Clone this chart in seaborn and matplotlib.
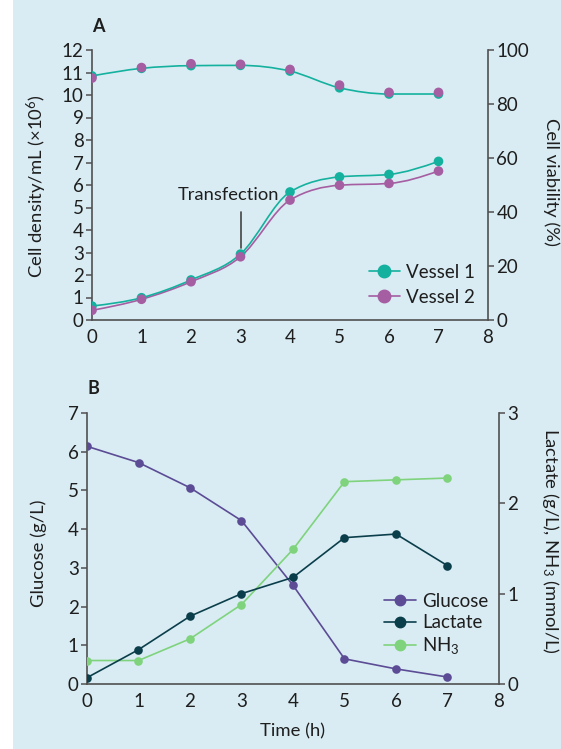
import numpy as np
import matplotlib
matplotlib.use("Agg")
import matplotlib.pyplot as plt
from matplotlib.path import Path
from matplotlib.patches import PathPatch, Rectangle
from matplotlib.lines import Line2D
import seaborn as sns
import pandas as pd

# ---------------- data ----------------
time_days = [0, 1, 2, 3, 4, 5, 6, 7]
v1_density = [0.62, 0.99, 1.78, 2.93, 5.69, 6.36, 6.47, 7.05]
v2_density = [0.43, 0.92, 1.70, 2.81, 5.33, 5.99, 6.07, 6.62]
v1_viability = [90.4, 93.2, 94.2, 94.3, 92.2, 86.0, 83.7, 83.7]
v2_viability = [89.6, 93.5, 94.9, 94.7, 92.8, 87.0, 84.3, 84.3]

glucose = [6.14, 5.72, 5.07, 4.22, 2.55, 0.65, 0.39, 0.18]
lactate = [0.07, 0.38, 0.75, 1.00, 1.18, 1.62, 1.66, 1.31]
nh3 = [0.26, 0.26, 0.50, 0.88, 1.49, 2.24, 2.26, 2.28]

vessel_labels = ["Vessel 1", "Vessel 2"]
metab_labels = ["Glucose", "Lactate", "NH$_3$"]
x_ticks = [0, 1, 2, 3, 4, 5, 6, 7, 8]
yA_left_ticks = list(range(0, 13))
yA_right_ticks = [0, 20, 40, 60, 80, 100]
yB_left_ticks = list(range(0, 8))
yB_right_ticks = [0, 1, 2, 3]

# ---------------- style ----------------
BG = "#d9ecf3"
TEAL = "#14b19e"
MAGENTA = "#a55ea2"
GLU = "#5b4c95"
LAC = "#0b3e4b"
NH3C = "#7fd37d"
SPINE = "#505050"
TXT = "#1e1e1e"

sns.set_theme(style="white")
plt.rcParams["font.family"] = ["Lato", "DejaVu Sans"]
plt.rcParams["mathtext.fontset"] = "custom"
plt.rcParams["mathtext.rm"] = "Lato"
plt.rcParams["mathtext.it"] = "Lato"
plt.rcParams["text.color"] = TXT
plt.rcParams["axes.labelcolor"] = TXT
plt.rcParams["xtick.color"] = SPINE
plt.rcParams["ytick.color"] = SPINE
plt.rcParams["xtick.labelcolor"] = TXT
plt.rcParams["ytick.labelcolor"] = TXT

FS = 13.5
LFS = 13.3

fig = plt.figure(figsize=(5.61, 7.49), dpi=100)
fig.patch.set_facecolor("white")
fig.add_artist(Rectangle((13 / 561, 0), 1, 1, transform=fig.transFigure,
                         facecolor=BG, edgecolor="none", zorder=-10))


def monotone_path(x, y):
    x = np.asarray(x, float)
    y = np.asarray(y, float)
    n = len(x)
    h = np.diff(x)
    d = np.diff(y) / h
    m = np.zeros(n)
    for i in range(1, n - 1):
        s0, s1 = d[i - 1], d[i]
        h0, h1 = h[i - 1], h[i]
        p = (s0 * h1 + s1 * h0) / (h0 + h1)
        m[i] = (np.sign(s0) + np.sign(s1)) * min(abs(s0), abs(s1), 0.5 * abs(p))
    m[0] = (3 * d[0] - m[1]) / 2
    m[-1] = (3 * d[-1] - m[-2]) / 2
    verts = [(x[0], y[0])]
    codes = [Path.MOVETO]
    for i in range(n - 1):
        dx = h[i] / 3
        verts += [(x[i] + dx, y[i] + m[i] * dx),
                  (x[i + 1] - dx, y[i + 1] - m[i + 1] * dx),
                  (x[i + 1], y[i + 1])]
        codes += [Path.CURVE4] * 3
    return Path(verts, codes)


def style_axes(ax, ax2, left_ticks, right_ticks, ylim_l, ylim_r):
    ax.patch.set_visible(False)
    ax2.patch.set_visible(False)
    ax.set_xlim(0, 8)
    ax.set_ylim(*ylim_l)
    ax2.set_ylim(*ylim_r)
    ax.set_xticks(x_ticks)
    ax.set_yticks(left_ticks)
    ax2.set_yticks(right_ticks)
    for s in ["top", "right"]:
        ax.spines[s].set_visible(False)
    for s in ["top", "left", "bottom"]:
        ax2.spines[s].set_visible(False)
    for a, s in [(ax, "left"), (ax, "bottom"), (ax2, "right")]:
        a.spines[s].set_color(SPINE)
        a.spines[s].set_linewidth(1.2)
    ax.tick_params(axis="y", direction="out", length=4, width=1.1, labelsize=FS, pad=2)
    ax.tick_params(axis="x", direction="out", length=4, width=1.1, labelsize=FS, pad=2.5)
    ax2.tick_params(axis="y", direction="out", length=4, width=1.1, labelsize=FS, pad=2)
    ax.grid(False)
    ax2.grid(False)


# ---------------- Panel A ----------------
axA = fig.add_axes([92 / 561, 1 - 320 / 749, 396 / 561, 270 / 749])
axA2 = axA.twinx()
axA2.set_position([92 / 561, 1 - 320 / 749, 396 / 561, 270 / 749])
style_axes(axA, axA2, yA_left_ticks, yA_right_ticks, (0, 12), (0, 100))

# smooth lines
axA.add_patch(PathPatch(monotone_path(time_days, v2_density), facecolor="none",
                        edgecolor=MAGENTA, lw=1.2, zorder=2))
axA.add_patch(PathPatch(monotone_path(time_days, v1_density), facecolor="none",
                        edgecolor=TEAL, lw=1.2, zorder=2.1))
axA2.add_patch(PathPatch(monotone_path(time_days, v1_viability), facecolor="none",
                         edgecolor=TEAL, lw=1.2, zorder=2.1))

dfA = pd.DataFrame({"t": time_days, "v1d": v1_density, "v2d": v2_density,
                    "v1v": v1_viability, "v2v": v2_viability})
sns.scatterplot(data=dfA, x="t", y="v1d", ax=axA, color=TEAL, s=48,
                edgecolor="none", zorder=3, legend=False)
sns.scatterplot(data=dfA, x="t", y="v2d", ax=axA, color=MAGENTA, s=48,
                edgecolor="none", zorder=3.1, legend=False)
sns.scatterplot(data=dfA, x="t", y="v1v", ax=axA2, color=TEAL, s=48,
                edgecolor="none", zorder=3, legend=False)
sns.scatterplot(data=dfA, x="t", y="v2v", ax=axA2, color=MAGENTA, s=48,
                edgecolor="none", zorder=3.1, legend=False)
axA.set_xlim(0, 8)
axA.set_ylim(0, 12)
axA2.set_ylim(0, 100)

axA.set_xlabel("")
axA.set_ylabel("Cell density/mL (×10$^6$)", fontsize=LFS, va="center")
axA.yaxis.set_label_coords(-0.138, 0.495)
axA2.set_ylabel("Cell viability (%)", fontsize=LFS, rotation=270, va="center")
axA2.yaxis.set_label_coords(1.160, 0.51)

# transfection annotation
axA.plot([3, 3], [3.2, 4.8], color="#444444", lw=1.2, zorder=2)
axA.text(2.76, 5.33, "Transfection", ha="center", va="baseline", fontsize=13.2, color=TXT)

hA = [Line2D([0], [0], color=TEAL, lw=1.2, marker="o", markersize=9),
      Line2D([0], [0], color=MAGENTA, lw=1.2, marker="o", markersize=9)]
legA = axA2.legend(hA, vessel_labels, loc="upper left",
                   bbox_to_anchor=(369 / 561, 1 - 264 / 749),
                   bbox_transform=fig.transFigure, frameon=False, fontsize=FS,
                   handlelength=1.65, handletextpad=0.35, labelspacing=0.42,
                   borderpad=0, borderaxespad=0)
fig.text(98 / 561, 1 - 27 / 749, "A", fontsize=13, fontweight="bold",
         ha="center", va="center")

# ---------------- Panel B ----------------
axB = fig.add_axes([87 / 561, 1 - 684 / 749, 412 / 561, 271 / 749])
axB2 = axB.twinx()
axB2.set_position([87 / 561, 1 - 684 / 749, 412 / 561, 271 / 749])
style_axes(axB, axB2, yB_left_ticks, yB_right_ticks, (0, 7), (0, 3))

dfB = pd.DataFrame({"t": time_days, "glucose": glucose, "lactate": lactate, "nh3": nh3})
sns.lineplot(data=dfB, x="t", y="nh3", ax=axB2, color=NH3C, lw=1.2, marker="o",
             markersize=6.2, markeredgewidth=0, zorder=2)
sns.lineplot(data=dfB, x="t", y="lactate", ax=axB2, color=LAC, lw=1.2, marker="o",
             markersize=6.2, markeredgewidth=0, zorder=3)
sns.lineplot(data=dfB, x="t", y="glucose", ax=axB, color=GLU, lw=1.2, marker="o",
             markersize=6.2, markeredgewidth=0, zorder=3)
axB.set_xlim(0, 8)
axB.set_ylim(0, 7)
axB2.set_ylim(0, 3)

axB.set_xlabel("Time (h)", fontsize=LFS, va="center")
axB.xaxis.set_label_coords(0.5, -0.173)
axB.set_ylabel("Glucose (g/L)", fontsize=LFS, va="center")
axB.yaxis.set_label_coords(-0.1165, 0.483)
axB2.set_ylabel("Lactate (g/L), NH$_3$ (mmol/L)", fontsize=LFS, rotation=270, va="center")
axB2.yaxis.set_label_coords(1.124, 0.528)

hB = [Line2D([0], [0], color=GLU, lw=1.2, marker="o", markersize=7.5),
      Line2D([0], [0], color=LAC, lw=1.2, marker="o", markersize=7.5),
      Line2D([0], [0], color=NH3C, lw=1.2, marker="o", markersize=7.5)]
legB = axB2.legend(hB, metab_labels, loc="upper left",
                   bbox_to_anchor=(384 / 561, 1 - 593 / 749),
                   bbox_transform=fig.transFigure, frameon=False, fontsize=FS,
                   handlelength=1.7, handletextpad=0.35, labelspacing=0.22,
                   borderpad=0, borderaxespad=0)
fig.text(93 / 561, 1 - 389 / 749, "B", fontsize=13, fontweight="bold",
         ha="center", va="center")

fig.savefig("out.png", dpi=100, facecolor=fig.get_facecolor())
